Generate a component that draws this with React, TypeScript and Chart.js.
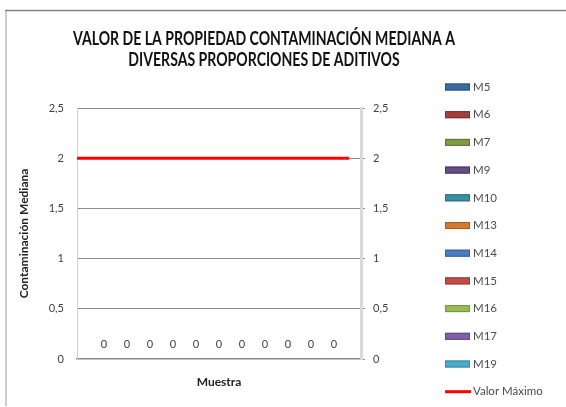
import React, { useEffect, useRef } from "react";
import { Chart, registerables } from "chart.js";

Chart.register(...registerables);

const TITLE_LINES = [
  "VALOR DE LA PROPIEDAD CONTAMINACIÓN MEDIANA A",
  "DIVERSAS PROPORCIONES DE ADITIVOS",
];
const CATEGORY_POSITION = [0];
const SERIES_NAMES = ["M5", "M6", "M7", "M9", "M10", "M13", "M14", "M15", "M16", "M17", "M19"];
const SERIES_VALUES = [[0], [0], [0], [0], [0], [0], [0], [0], [0], [0], [0]];
const SERIES_COLORS = [
  "#3d6aa3", "#a3403e", "#7e9a45", "#654d85", "#3b8fa5", "#d5792f",
  "#4a7dc0", "#c04b4a", "#99bb55", "#7f62a5", "#4aaccb",
];
const SERIES_BORDERS = [
  "#2c4f7c", "#7c2e2d", "#5e7533", "#4a3763", "#2a6c7d", "#a65a1f",
  "#35609a", "#983736", "#77933f", "#5f4680", "#34899f",
];
const MAX_NAME = "Valor Máximo";
const MAX_X = [-0.5, 0.458];
const MAX_VALUES = [2, 2];
const X_MIN = -0.5;
const X_MAX = 0.5;
const Y_MIN = 0;
const Y_MAX = 2.5;
const Y_STEP = 0.5;
const X_TITLE = "Muestra";
const Y_TITLE = "Contaminación Mediana";

const FONT = "Lato, 'Open Sans', sans-serif";
const fmt = (v: number) => String(v).replace(".", ",");

const framePlugin = {
  id: "frame",
  beforeDraw(chart: any) {
    const ctx = chart.ctx;
    ctx.save();
    ctx.fillStyle = "#ffffff";
    ctx.fillRect(0, 0, chart.width, chart.height);
    ctx.strokeStyle = "#cfcfcf";
    ctx.lineWidth = 2;
    ctx.beginPath();
    ctx.moveTo(6, 10);
    ctx.lineTo(6, 406);
    ctx.stroke();
    ctx.strokeStyle = "#858585";
    ctx.lineWidth = 1.5;
    ctx.beginPath();
    ctx.moveTo(5, 10.5);
    ctx.lineTo(chart.width, 10.5);
    ctx.stroke();
    ctx.fillStyle = "#111111";
    ctx.font = `bold 18px ${FONT}`;
    ctx.textAlign = "center";
    ctx.textBaseline = "middle";
    const w1 = ctx.measureText(TITLE_LINES[0]).width;
    const f = Math.min(1, 382 / w1);
    TITLE_LINES.forEach((line, i) => {
      ctx.save();
      ctx.translate(264, 39 + i * 21.5);
      ctx.scale(f, 1);
      ctx.fillText(line, 0, 0);
      ctx.restore();
    });
    ctx.restore();
  },
  afterDatasetsDraw(chart: any) {
    const ctx = chart.ctx;
    ctx.save();
    ctx.fillStyle = "#404040";
    ctx.font = `11px ${FONT}`;
    ctx.textAlign = "center";
    ctx.textBaseline = "middle";
    chart.data.datasets.forEach((ds: any, i: number) => {
      if (ds.type === "line") return;
      const meta = chart.getDatasetMeta(i);
      meta.data.forEach((el: any, j: number) => {
        ctx.fillText(String(SERIES_VALUES[i][j]), el.x, el.y - 15);
      });
    });
    ctx.restore();
  },
  afterDraw(chart: any) {
    const ctx = chart.ctx;
    ctx.save();
    ctx.font = `11.5px ${FONT}`;
    ctx.textBaseline = "middle";
    ctx.textAlign = "left";
    const x0 = 445;
    const step = 27.7;
    chart.data.datasets.forEach((ds: any, i: number) => {
      const y = 87 + i * step;
      if (ds.type === "line") {
        ctx.strokeStyle = ds.borderColor;
        ctx.lineWidth = 3;
        ctx.beginPath();
        ctx.moveTo(x0, y);
        ctx.lineTo(x0 + 26, y);
        ctx.stroke();
      } else {
        ctx.fillStyle = ds.backgroundColor;
        ctx.fillRect(x0, y - 3.5, 25, 7);
        ctx.strokeStyle = ds.borderColor;
        ctx.lineWidth = 1;
        ctx.strokeRect(x0 + 0.5, y - 3, 24, 6);
      }
      ctx.fillStyle = "#4a4a4a";
      ctx.fillText(ds.label, x0 + 28, y);
    });
    ctx.restore();
  },
};

export default function App() {
  const ref = useRef<HTMLCanvasElement>(null);
  useEffect(() => {
    if (!ref.current) return;
    const datasets: any[] = SERIES_NAMES.map((name, i) => ({
      type: "bar",
      label: name,
      data: SERIES_VALUES[i].map((v, j) => ({ x: CATEGORY_POSITION[j], y: v })),
      backgroundColor: SERIES_COLORS[i],
      borderColor: SERIES_BORDERS[i],
      borderWidth: 0,
      inflateAmount: 0,
      barThickness: 23,
      xAxisID: "x",
      yAxisID: "y",
    }));
    datasets.push({
      type: "line",
      label: MAX_NAME,
      data: MAX_X.map((x, i) => ({ x, y: MAX_VALUES[i] })),
      borderColor: "#ff0000",
      backgroundColor: "#ff0000",
      borderWidth: 3,
      pointRadius: 0,
      xAxisID: "x",
      yAxisID: "y",
    });
    const chart = new Chart(ref.current, {
      type: "bar",
      data: { datasets },
      options: {
        animation: false,
        responsive: false,
        devicePixelRatio: 1,
        layout: { padding: { top: 108, left: 0, right: 0, bottom: 0 } },
        plugins: { legend: { display: false }, title: { display: false }, tooltip: { enabled: false } },
        scales: {
          x: {
            type: "linear",
            position: "bottom",
            z: 1,
            min: X_MIN,
            max: X_MAX,
            offset: false,
            grid: { display: false, offset: false },
            border: { display: true, color: "#8a8a8a", width: 1.5 },
            ticks: { display: false },
            title: {
              display: true,
              text: X_TITLE,
              color: "#222",
              font: { family: FONT, size: 12, weight: "bold" },
              padding: { top: 0, bottom: 18 },
            },
            afterFit: (s: any) => { s.height = 48; },
          },
          y: {
            position: "left",
            min: Y_MIN,
            max: Y_MAX,
            ticks: {
              stepSize: Y_STEP,
              padding: 13,
              color: "#404040",
              font: { family: FONT, size: 11 },
              callback: (v: any) => fmt(Number(v)),
            },
            grid: {
              color: "#8c8c8c",
              drawTicks: false,
              lineWidth: (c: any) => (c.tick && c.tick.value === 0 ? 0 : 1),
            },
            border: { display: true, color: "#d0d0d0", width: 1 },
            title: {
              display: true,
              text: Y_TITLE,
              color: "#222",
              font: { family: FONT, size: 12, weight: "bold" },
              padding: { top: 17, bottom: 0 },
            },
            afterFit: (s: any) => { s.width = 77; },
          },
          y2: {
            position: "right",
            min: Y_MIN,
            max: Y_MAX,
            ticks: {
              stepSize: Y_STEP,
              padding: 8,
              color: "#404040",
              font: { family: FONT, size: 11 },
              callback: (v: any) => fmt(Number(v)),
            },
            grid: { drawOnChartArea: false, drawTicks: true, tickLength: 4, color: "#8c8c8c" },
            border: { display: true, color: "#d9d9d9", width: 3 },
            afterFit: (s: any) => { s.width = 205; },
          },
        },
      },
      plugins: [framePlugin],
    } as any);
    return () => chart.destroy();
  }, []);
  return (
    <div style={{ position: "fixed", left: 0, top: 0, width: 566, height: 407 }}>
      <canvas ref={ref} width={566} height={407} style={{ display: "block" }} />
    </div>
  );
}
